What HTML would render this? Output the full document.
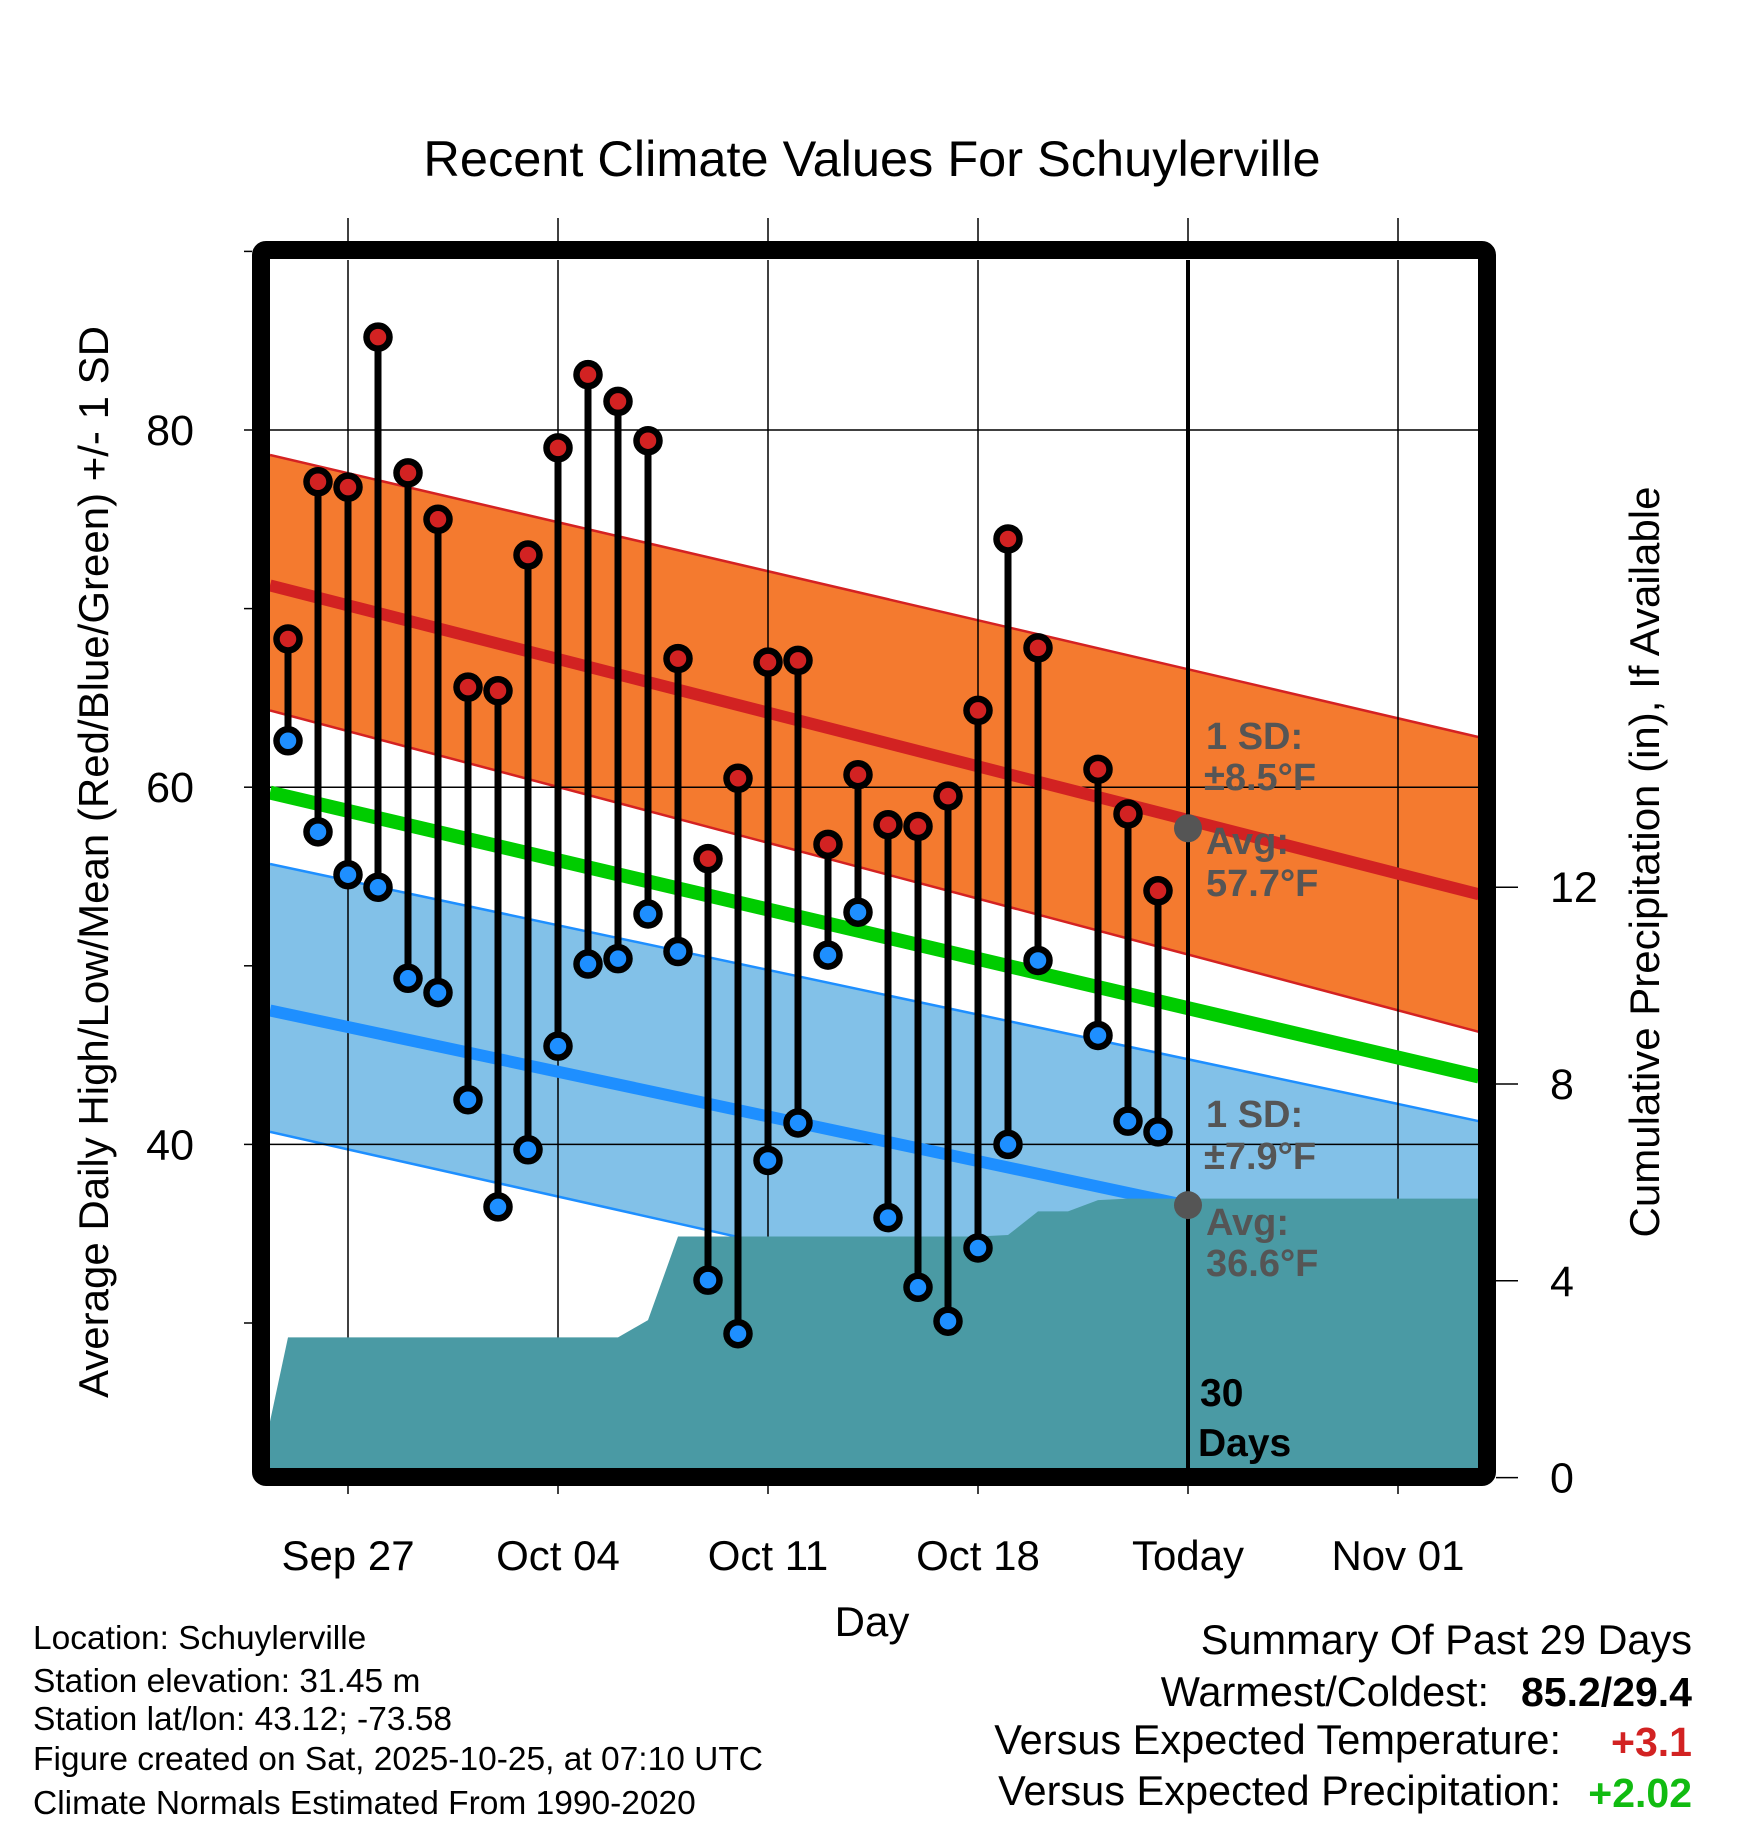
<!DOCTYPE html>
<html><head><meta charset="utf-8"><style>
html,body{margin:0;padding:0;background:#fff;}
svg{display:block;font-family:"Liberation Sans",Arial,sans-serif;}
</style></head><body>
<svg id="chart" width="1748" height="1828" viewBox="0 0 1748 1828" xmlns="http://www.w3.org/2000/svg">
<defs><clipPath id="plotclip"><rect x="270" y="260" width="1208" height="1208"/></clipPath></defs>
<text x="872" y="176" font-size="50.5" text-anchor="middle">Recent Climate Values For Schuylerville</text>
<g id="plot" clip-path="url(#plotclip)"></g>
<g id="axes"></g>
</svg>
<script>
// ---- data ----
const obsDays = [-2,-1,0,1,2,3,4,5,6,7,8,9,10,11,12,13,14,15,16,17,18,19,20,21,22,23,25,26,27];
const highs = [68.3,77.1,76.8,85.2,77.6,75.0,65.6,65.4,73.0,79.0,83.1,81.6,79.4,67.2,56.0,60.5,67.0,67.1,56.8,60.7,57.9,57.8,59.5,64.3,73.9,67.8,61.0,58.5,54.2];
const lows  = [62.6,57.5,55.1,54.4,49.3,48.5,42.5,36.5,39.7,45.5,50.1,50.4,52.9,50.8,32.4,29.4,39.1,41.2,50.6,53.0,35.9,32.0,30.1,34.2,40.0,50.3,46.1,41.3,40.7];
const normDays = [-2.6, 37.7];
const normHigh = [71.3, 54.0];
const normHighUp = [78.6, 62.8];
const normHighLo = [64.3, 46.3];
const normMean = [59.7, 43.8];
const normLow = [47.5, 33.1];
const normLowUp = [55.7, 41.3];
const normLowLo = [40.7, 25.5];
const precipDays = [-3,-2,-1,0,1,2,3,4,5,6,7,8,9,10,11,12,13,14,15,16,17,18,19,20,21,22,23,24,25,26,27,28,38];
const precipVals = [0,2.85,2.85,2.85,2.85,2.85,2.85,2.85,2.85,2.85,2.85,2.85,2.85,3.2,4.9,4.9,4.9,4.9,4.9,4.9,4.9,4.9,4.9,4.9,4.9,4.93,5.41,5.41,5.64,5.67,5.67,5.67,5.67];
const xTickDays = [0,7,14,21,28,35];
const xTickLabels = ["Sep 27","Oct 04","Oct 11","Oct 18","Today","Nov 01"];
const yTickVals = [30,40,50,60,70,80,90];
const yLabelVals = [40,60,80];
const pTickVals = [0,4,8,12];
const todayDay = 28;
const todayHighAvg = 57.7, todayLowAvg = 36.6;

// ---- scales ----
const X = d => 348 + 30*d;
const Y = v => 430 + (80 - v)*17.86;
const PY = p => 1477.6 - p*49.2;
const NS = "http://www.w3.org/2000/svg";
const plot = document.getElementById('plot');
const axes = document.getElementById('axes');
function mk(tag, attrs, parent){const e=document.createElementNS(NS,tag);for(const k in attrs)e.setAttribute(k,attrs[k]);parent.appendChild(e);return e;}
function bandPath(up, lo){
  return `M${X(normDays[0])},${Y(up[0])} L${X(normDays[1])},${Y(up[1])} L${X(normDays[1])},${Y(lo[1])} L${X(normDays[0])},${Y(lo[0])} Z`;
}
function line(vals, color, w, name){
  const l=mk('line',{x1:X(normDays[0]),y1:Y(vals[0]),x2:X(normDays[1]),y2:Y(vals[1]),stroke:color,'stroke-width':w},plot);
  
  
  return l;
}
// bands
let b=mk('path',{d:bandPath(normHighUp,normHighLo),fill:'#f47a2f'},plot);


b=mk('path',{d:bandPath(normLowUp,normLowLo),fill:'#82c1e8'},plot);


line(normHighUp,'#d42222',2.5,'high-band-upper-edge');
line(normHighLo,'#d42222',2.5,'high-band-lower-edge');
line(normLowUp,'#1e8fff',2.5,'low-band-upper-edge');
line(normLowLo,'#1e8fff',2.5,'low-band-lower-edge');
// grid
xTickDays.forEach(d=>{const g=mk('line',{x1:X(d),y1:260,x2:X(d),y2:1468,stroke:'#000','stroke-width':1.5},plot);

});
yLabelVals.forEach(v=>{const g=mk('line',{x1:270,y1:Y(v),x2:1478,y2:Y(v),stroke:'#000','stroke-width':1.5},plot);

});
// mean lines
line(normHigh,'#d22222',12,'normal-high-line');
line(normMean,'#00cc00',14,'normal-mean-line');
line(normLow,'#1e8fff',12,'normal-low-line');
// precip
let pd=`M${X(precipDays[0])},1480`;
precipDays.forEach((d,i)=>{pd+=` L${X(d)},${PY(precipVals[i])}`;});
pd+=` L${X(precipDays[precipDays.length-1])},1480 Z`;
const pa=mk('path',{d:pd,fill:'#4a9aa4'},plot);


// today line
const tl=mk('line',{x1:X(todayDay),y1:260,x2:X(todayDay),y2:1468,stroke:'#000','stroke-width':4},plot);


// avg dots
[todayHighAvg,todayLowAvg].forEach(v=>{const c=mk('circle',{cx:X(todayDay),cy:Y(v),r:14,fill:'#555'},plot);

});
// stems & markers
obsDays.forEach((d,i)=>{
  const s=mk('line',{x1:X(d),y1:Y(highs[i]),x2:X(d),y2:Y(lows[i]),stroke:'#000','stroke-width':7},plot);
  
  
  const h=mk('circle',{cx:X(d),cy:Y(highs[i]),r:11.5,fill:'#d22222',stroke:'#000','stroke-width':6.5},plot);
  
  
  const l=mk('circle',{cx:X(d),cy:Y(lows[i]),r:11.5,fill:'#1e8fff',stroke:'#000','stroke-width':6.5},plot);
  
  
});
// annotations
function txt(x,y,s,opts,name,parent){const t=mk('text',Object.assign({x:x,y:y},opts),parent||plot);t.textContent=s;

return t;}
const ann={'font-size':38,'font-weight':'bold',fill:'#555'};
txt(1206,749,'1 SD:',ann,'high-sd-label');
txt(1204,790,'±8.5°F',ann,'high-sd-value');
txt(1206,854,'Avg:',ann,'high-avg-label');
txt(1206,896,'57.7°F',ann,'high-avg-value');
txt(1206,1127,'1 SD:',ann,'low-sd-label');
txt(1204,1169,'±7.9°F',ann,'low-sd-value');
txt(1206,1235,'Avg:',ann,'low-avg-label');
txt(1206,1276,'36.6°F',ann,'low-avg-value');
txt(1200,1406,'30',{'font-size':39,'font-weight':'bold',fill:'#000'},'days-count');
txt(1198,1456,'Days',{'font-size':39,'font-weight':'bold',fill:'#000'},'days-label');
// frame
const fr=mk('rect',{x:261,y:250,width:1226,height:1227,rx:5,fill:'none',stroke:'#000','stroke-width':18},axes);


// x ticks outside
xTickDays.forEach((d,i)=>{
  const a=mk('line',{x1:X(d),y1:218,x2:X(d),y2:241,stroke:'#000','stroke-width':1.5},axes);
  
  
  const c=mk('line',{x1:X(d),y1:1486,x2:X(d),y2:1494,stroke:'#000','stroke-width':1.5},axes);
  
  
  txt(X(d),1570,xTickLabels[i],{'font-size':42,'text-anchor':'middle'},'x-tick-label',axes);
});
yTickVals.forEach(v=>{const t=mk('line',{x1:244,y1:Y(v),x2:252,y2:Y(v),stroke:'#000','stroke-width':1.5},axes);

});
yLabelVals.forEach(v=>txt(194,Y(v)+15,String(v),{'font-size':43,'text-anchor':'end'},'y-tick-label',axes));
pTickVals.forEach(p=>{const t=mk('line',{x1:1496,y1:PY(p),x2:1518,y2:PY(p),stroke:'#000','stroke-width':1.5},axes);


txt(1550,PY(p)+15,String(p),{'font-size':43},'precip-tick-label',axes);});
txt(872,1636,'Day',{'font-size':42,'text-anchor':'middle'},'x-axis-title',axes);
txt(0,0,'Average Daily High/Low/Mean (Red/Blue/Green) +/- 1 SD',{'font-size':42,'text-anchor':'middle',transform:'translate(108,862) rotate(-90)'},'y-axis-title',axes);
txt(0,0,'Cumulative Precipitation (in), If Available',{'font-size':42,'text-anchor':'middle',transform:'translate(1659,862) rotate(-90)'},'precip-axis-title',axes);
// footer
const fl={'font-size':33.5};
txt(33,1649,'Location: Schuylerville',fl,'location-text',axes);
txt(33,1692,'Station elevation: 31.45 m',fl,'elevation-text',axes);
txt(33,1730,'Station lat/lon: 43.12; -73.58',fl,'latlon-text',axes);
txt(33,1770,'Figure created on Sat, 2025-10-25, at 07:10 UTC',fl,'created-text',axes);
txt(33,1814,'Climate Normals Estimated From 1990-2020',fl,'normals-text',axes);
const fr2={'font-size':41.5,'text-anchor':'end'};
txt(1692,1654,'Summary Of Past 29 Days',fr2,'summary-title',axes);
txt(1489,1706,'Warmest/Coldest:',fr2,'warmest-label',axes);
txt(1692,1706,'85.2/29.4',{'font-size':41,'text-anchor':'end','font-weight':'bold'},'warmest-value',axes);
txt(1561,1754,'Versus Expected Temperature:',fr2,'temp-anomaly-label',axes);
txt(1692,1756,'+3.1',{'font-size':41,'text-anchor':'end','font-weight':'bold',fill:'#d22222'},'temp-anomaly-value',axes);
txt(1561,1805,'Versus Expected Precipitation:',fr2,'precip-anomaly-label',axes);
txt(1692,1807,'+2.02',{'font-size':41,'text-anchor':'end','font-weight':'bold',fill:'#11bb11'},'precip-anomaly-value',axes);
</script>
</body></html>
